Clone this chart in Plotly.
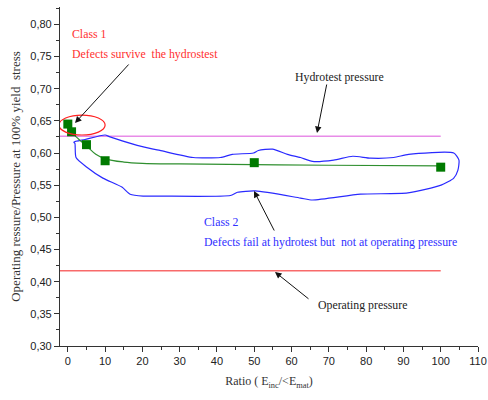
import plotly.graph_objects as go

# ---- data ----
ratio_pts = [0, 1, 5, 10, 50, 100]
pressure_pts = [0.645, 0.633, 0.613, 0.588, 0.585, 0.578]

fit_x = [1, 3, 5, 7.5, 10, 15, 20, 30, 50, 70, 100]
fit_y = [0.632, 0.621, 0.611, 0.598, 0.591, 0.586, 0.584, 0.583, 0.582, 0.581, 0.580]

hydro_x = [-2.1, 100]
hydro_y = [0.626, 0.626]
oper_x = [-2.1, 100]
oper_y = [0.417, 0.417]

class2_x = [1.6, 4.6, 10.0, 11.3, 18.6, 22.9, 24.7, 33.6, 40.9, 44.1, 49.8, 51.1, 54.9,
            58.9, 62.4, 65.6, 71.3, 76.4, 81.2, 87.4, 91.4, 103.5, 104.9, 104.6, 103.5,
            100.1, 91.2, 78.5, 65.6, 62.4, 50.3, 45.5, 43.6, 24.7, 20.2, 16.7, 14.5,
            9.4, 5.1, 2.2, 1.9, 1.6]
class2_y = [0.617, 0.621, 0.628, 0.625, 0.612, 0.606, 0.604, 0.593, 0.593, 0.598, 0.600,
            0.604, 0.606, 0.598, 0.593, 0.587, 0.589, 0.595, 0.592, 0.593, 0.598, 0.600,
            0.589, 0.573, 0.561, 0.550, 0.538, 0.536, 0.527, 0.530, 0.541, 0.539, 0.534,
            0.533, 0.533, 0.536, 0.547, 0.561, 0.578, 0.593, 0.615, 0.617]

y_ticks = [0.30, 0.35, 0.40, 0.45, 0.50, 0.55, 0.60, 0.65, 0.70, 0.75, 0.80]
y_ticktext = ["0,30", "0,35", "0,40", "0,45", "0,50", "0,55", "0,60", "0,65", "0,70", "0,75", "0,80"]
x_ticks = list(range(0, 111, 10))

serif = "Liberation Serif"
sans = "Liberation Sans"

fig = go.Figure()
fig.add_trace(go.Scatter(x=hydro_x, y=hydro_y, mode="lines",
                         line=dict(color="#e88ce8", width=1.5), showlegend=False))
fig.add_trace(go.Scatter(x=oper_x, y=oper_y, mode="lines",
                         line=dict(color="#f86a6a", width=1.5), showlegend=False))
fig.add_trace(go.Scatter(x=class2_x, y=class2_y, mode="lines",
                         line=dict(color="#2a2aff", width=1.2, shape="spline", smoothing=0.6),
                         showlegend=False))
fig.add_trace(go.Scatter(x=fit_x, y=fit_y, mode="lines",
                         line=dict(color="#2f8f2f", width=1.2, shape="spline"), showlegend=False))
fig.add_trace(go.Scatter(x=ratio_pts, y=pressure_pts, mode="markers",
                         marker=dict(symbol="square", size=9, color="#007a00"), showlegend=False))

# red ellipse around class 1 points
fig.add_shape(type="circle", xref="x", yref="y", x0=-2.4, x1=10.0, y0=0.628, y1=0.659,
              line=dict(color="#ff2020", width=1.2))

W, H = 488, 400
L, R, T, B = 60, 10, 7, 54
pw, ph = W - L - R, H - T - B

def px(x):
    return (x - L) / pw

def py(y):
    return (H - B - y) / ph

def txt(x, y, s, color, size=11.8, xanchor="left"):
    fig.add_annotation(xref="paper", yref="paper", x=px(x), y=py(y), text=s, showarrow=False,
                       xanchor=xanchor, yanchor="middle",
                       font=dict(family=serif, size=size, color=color))

txt(70, 34, "Class 1", "#ff3030")
txt(70, 54, "Defects survive  the hydrostest", "#ff3030")
txt(293, 77, "Hydrotest pressure", "#222222")
txt(202, 222, "Class 2", "#3030ff")
txt(202, 242, "Defects fail at hydrotest but  not at operating pressure", "#3030ff")
txt(316, 305, "Operating pressure", "#222222")

def arrow(x0, y0, x1, y1):
    fig.add_annotation(xref="paper", yref="paper", axref="pixel", ayref="pixel",
                       x=px(x1), y=py(y1), ax=x0 - x1, ay=y0 - y1, text="",
                       showarrow=True, arrowhead=2, arrowsize=1.3, arrowwidth=1,
                       arrowcolor="#111111")

arrow(130, 63, 75, 123)
arrow(327, 83, 317, 133)
arrow(275, 232, 254, 191)
arrow(310, 300, 275, 272)

fig.update_layout(
    width=W, height=H,
    margin=dict(l=L, r=R, t=T, b=B),
    plot_bgcolor="white", paper_bgcolor="white",
    font=dict(family=sans, size=11, color="#222222"),
    xaxis=dict(range=[-2.1, 110], tickvals=x_ticks, showgrid=False, zeroline=False,
               automargin=False,
               showline=True, linecolor="#333333", linewidth=1.2,
               ticks="outside", ticklen=5, tickcolor="#333333",
               minor=dict(dtick=5, tick0=0, ticks="outside", ticklen=3, tickcolor="#333333"),
               tickfont=dict(family=sans, size=11, color="#222222"),
               title=dict(text="Ratio ( E<sub>inc</sub>/&lt;E<sub>mat</sub>)",
                          font=dict(family=serif, size=12, color="#333333"), standoff=10)),
    yaxis=dict(range=[0.30, 0.827], tickvals=y_ticks, ticktext=y_ticktext,
               showgrid=False, zeroline=False, automargin=False,
               showline=True, linecolor="#333333", linewidth=1.2,
               ticks="outside", ticklen=5, tickcolor="#333333",
               minor=dict(dtick=0.025, tick0=0.30, ticks="outside", ticklen=3, tickcolor="#333333"),
               tickfont=dict(family=sans, size=11, color="#222222"),
               title=dict(text="Operating ressure/Pressure at 100% yield  stress",
                          font=dict(family=serif, size=13, color="#333333"), standoff=6)),
)

fig.write_html("out.html", config={"displayModeBar": False},
               post_script="document.body.style.margin='0';")
